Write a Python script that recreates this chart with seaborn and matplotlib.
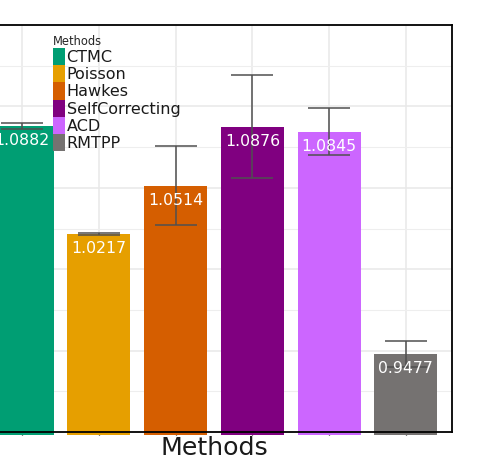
import matplotlib
matplotlib.use("Agg")
import matplotlib.pyplot as plt
from matplotlib.patches import Patch
import seaborn as sns

# Mean score per method, with the spread drawn as error bars
methods = ["CTMC", "Poisson", "Hawkes", "SelfCorrecting", "ACD", "RMTPP"]
means = [1.0882, 1.0217, 1.0514, 1.0876, 1.0845, 0.9477]
errors = [0.0018, 0.0007, 0.0240, 0.0316, 0.0144, 0.0080]
colors = ["#009E73", "#E69F00", "#D55E00", "#800080", "#CC66FF", "#757271"]

sns.set_theme(style="white")
plt.rcParams["font.family"] = ["DejaVu Sans"]

W, H = 498, 468
fig = plt.figure(figsize=(W / 100, H / 100), dpi=100)

# panel: x from -24 px to 452 px, y from 25 px (top) to 435 px (bottom)
ax = fig.add_axes([-24 / W, (H - 435) / H, 476 / W, 410 / H])

sns.barplot(x=methods, y=means, hue=methods, palette=colors, width=0.82,
            saturation=1, legend=False, linewidth=0, ax=ax, zorder=2)

y_low, y_high = 0.9, 1.15
px_per_unit = 407 / (y_high - y_low)
ax.set_ylim(y_low - 3 / px_per_unit, y_high)
ax.set_xlim(-0.6, 5.6)

# error bars
xs = list(range(len(methods)))
ax.errorbar(xs, means, yerr=errors, fmt="none", ecolor="#505050",
            elinewidth=1.1, capsize=15, capthick=1.1, zorder=3)

# value labels inside each bar, just under its top
for x, m in zip(xs, means):
    ax.annotate(f"{m:.4f}", xy=(x, m), xytext=(0, -10.5),
                textcoords="offset points", ha="center", va="center",
                color="white", fontsize=11.3, zorder=4)

# grid
ax.set_axisbelow(True)
ax.set_yticks([0.95, 1.0, 1.05, 1.1])
ax.set_yticks([0.925, 0.975, 1.025, 1.075, 1.125], minor=True)
ax.set_xticks(xs)
ax.grid(True, which="major", color="#e8e8e8", linewidth=1.1, zorder=0)
ax.grid(True, which="minor", axis="y", color="#eeeeee", linewidth=0.8, zorder=0)
ax.tick_params(axis="y", which="both", left=False, labelleft=False)
ax.tick_params(axis="x", bottom=True, length=2.2, width=0.9, color="black",
               labelbottom=False)

# frame
for side in ["top", "right", "bottom"]:
    ax.spines[side].set_visible(True)
    ax.spines[side].set_color("black")
    ax.spines[side].set_linewidth(1.3)
ax.spines["left"].set_visible(False)
ax.spines["bottom"].set_position(("data", y_low))
ax.spines["right"].set_bounds(y_low, y_high)

ax.set_xlabel("Methods", fontsize=18.2, color="#1a1a1a", labelpad=1)
ax.set_ylabel("")

# legend
handles = [Patch(facecolor=c, edgecolor="none", label=m)
           for m, c in zip(methods, colors)]
leg = fig.legend(handles=handles, title="Methods", loc="upper left",
                 bbox_to_anchor=(53 / W, 1 - 35 / H), frameon=False,
                 fontsize=11.5, title_fontsize=8.3, handlelength=0.75,
                 handleheight=1.28, labelspacing=0, handletextpad=0.1,
                 borderpad=0, borderaxespad=0, alignment="left")
for t in leg.get_texts():
    t.set_color("#1a1a1a")

# plot title, sitting right at the top edge of the canvas
fig.text(214 / W, 1 + 0.3 / H, "Methods", ha="center", va="baseline",
         fontsize=18, fontweight="bold", color="#1a1a1a")

fig.savefig("out.png", dpi=100)
